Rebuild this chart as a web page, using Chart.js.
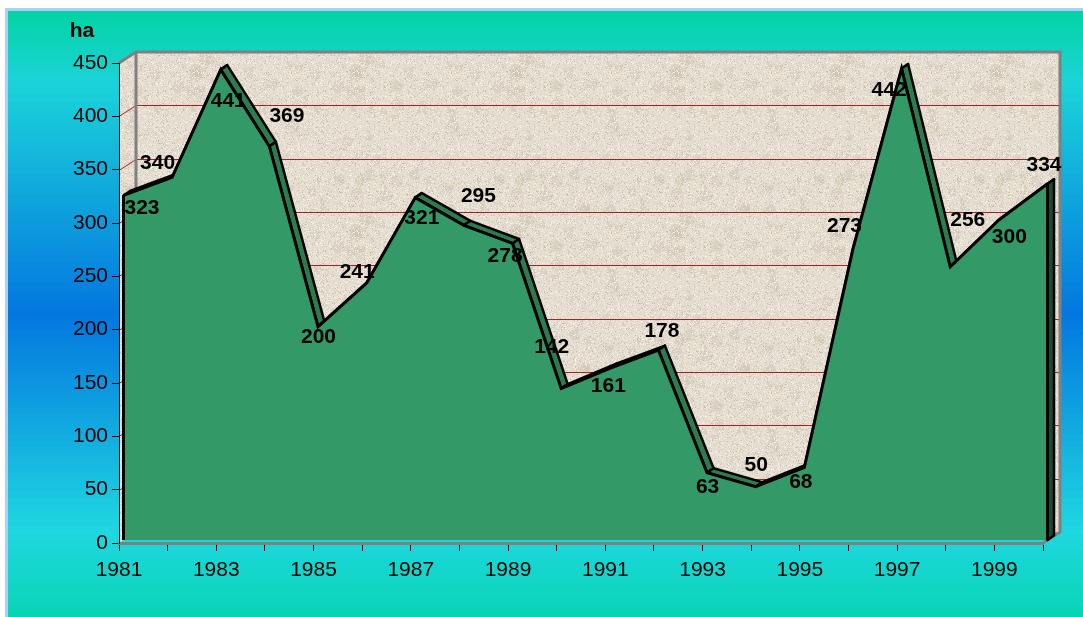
<!DOCTYPE html>
<html>
<head>
<meta charset="utf-8">
<script src="https://cdn.jsdelivr.net/npm/chart.js@4.4.1/dist/chart.umd.min.js"></script>
<style>
  html, body { margin: 0; padding: 0; background: #fff; }
  #wrap { width: 1083px; height: 617px; }
</style>
</head>
<body>
<div id="wrap"><canvas id="areaChart" width="1083" height="617"></canvas></div>
<script>
// Data
const years = ['1981', '1982', '1983', '1984', '1985', '1986', '1987', '1988', '1989', '1990',
               '1991', '1992', '1993', '1994', '1995', '1996', '1997', '1998', '1999', '2000'];
const hectares = [323, 340, 441, 369, 200, 241, 321, 295, 278, 142,
                  161, 178, 63, 50, 68, 273, 442, 256, 300, 334];
const yTicks = [0, 50, 100, 150, 200, 250, 300, 350, 400, 450];
const unitLabel = 'ha';

// where each value label sits relative to its point (Excel placed them by hand-ish)
const labelShift = [
    [23, 10], [-10, -17], [12, 29], [22, -33], [5, 8], [-5, -14], [11, 18], [19, -32], [-3, 10], [-5, -44],
    [3, 15], [8, -22], [5, 11], [5, -24], [1, 12], [-4, -26], [-8, 19], [22, -50], [15, 14], [1, -22]
];

const FONT = '"Liberation Sans", Arial, sans-serif';
const WALL = { dx: 17, dy: -11 };     // depth of the 3D box
const FRONT = { dx: 4.5, dy: -3 };    // front face of the series
const BACK = { dx: 11, dy: -7.5 };    // back face of the series

// beige speckled texture for the walls (seeded so it is the same every time)
function makeTexture() {
    const c = document.createElement('canvas');
    c.width = 160; c.height = 160;
    const t = c.getContext('2d');
    t.fillStyle = '#e6ddd1';
    t.fillRect(0, 0, 160, 160);
    let seed = 12345;
    const rnd = () => { seed = (seed * 1103515245 + 12345) % 2147483648; return seed / 2147483648; };
    for (let i = 0; i < 60; i++) {
        t.fillStyle = 'rgba(190,180,160,0.25)';
        t.beginPath();
        t.arc(rnd() * 160, rnd() * 160, 2 + rnd() * 5, 0, Math.PI * 2);
        t.fill();
    }
    for (let i = 0; i < 9000; i++) {
        const x = Math.floor(rnd() * 160), y = Math.floor(rnd() * 160);
        const r = rnd();
        t.fillStyle = r < 0.45 ? '#f3ede4' : (r < 0.85 ? '#d8cfc0' : '#c6bdab');
        t.fillRect(x, y, 1, 1);
    }
    return c;
}
const texture = makeTexture();

function poly(ctx, pts) {
    ctx.beginPath();
    ctx.moveTo(pts[0][0], pts[0][1]);
    for (let i = 1; i < pts.length; i++) ctx.lineTo(pts[i][0], pts[i][1]);
    ctx.closePath();
}

const scenery = {
    id: 'scenery',
    beforeDraw(chart) {
        const { ctx, chartArea: a, scales: { y } } = chart;
        const W = chart.width, H = chart.height;
        ctx.save();
        // page background
        ctx.fillStyle = '#ffffff';
        ctx.fillRect(0, 0, W, H);
        ctx.fillStyle = '#a9d2fb';
        ctx.fillRect(5, 8, W, H);
        const g = ctx.createLinearGradient(0, 11, 0, H);
        g.addColorStop(0, '#03d3a3');
        g.addColorStop(0.12, '#1bd3d9');
        g.addColorStop(0.5, '#0377e0');
        g.addColorStop(0.86, '#1fd7e0');
        g.addColorStop(1, '#08d4b4');
        ctx.fillStyle = g;
        ctx.fillRect(8, 11, W, H);

        // walls
        const L = a.left, R = a.right, T = a.top, B = a.bottom;
        const pat = ctx.createPattern(texture, 'repeat');
        ctx.fillStyle = pat;
        ctx.fillRect(L + WALL.dx, T + WALL.dy, R - L, B - T);
        poly(ctx, [[L, T], [L + WALL.dx, T + WALL.dy], [L + WALL.dx, B + WALL.dy], [L, B]]);
        ctx.fill();

        // gridlines on back and side wall
        ctx.strokeStyle = '#a22424';
        ctx.lineWidth = 1;
        yTicks.forEach(v => {
            if (v === 0) return;
            const py = Math.round(y.getPixelForValue(v) + WALL.dy) + 0.5;
            ctx.beginPath();
            ctx.moveTo(L, py - WALL.dy);
            ctx.lineTo(L + WALL.dx, py);
            ctx.lineTo(R + WALL.dx, py);
            ctx.stroke();
        });

        // wall edges
        ctx.strokeStyle = '#808080';
        ctx.lineWidth = 3;
        ctx.beginPath();
        ctx.moveTo(L, T);
        ctx.lineTo(L + WALL.dx, T + WALL.dy);
        ctx.lineTo(R + WALL.dx, T + WALL.dy);
        ctx.lineTo(R + WALL.dx, B + WALL.dy);
        ctx.lineTo(R, B);
        ctx.moveTo(L + WALL.dx, T + WALL.dy);
        ctx.lineTo(L + WALL.dx, B + WALL.dy);
        ctx.stroke();
        ctx.restore();
    },
    beforeDatasetsDraw(chart) {
        const { ctx, scales: { y } } = chart;
        const pts = chart.getDatasetMeta(0).data;
        const base = y.getPixelForValue(0);
        ctx.save();
        ctx.lineJoin = 'round';
        ctx.strokeStyle = '#000';
        ctx.lineWidth = 2.5;
        // top surface of the ribbon
        ctx.fillStyle = '#2d7b4f';
        for (let i = 0; i < pts.length - 1; i++) {
            const p = pts[i], q = pts[i + 1];
            poly(ctx, [
                [p.x + FRONT.dx, p.y + FRONT.dy], [q.x + FRONT.dx, q.y + FRONT.dy],
                [q.x + BACK.dx, q.y + BACK.dy], [p.x + BACK.dx, p.y + BACK.dy]
            ]);
            ctx.fill();
            ctx.stroke();
        }
        // right end of the ribbon
        const e = pts[pts.length - 1];
        ctx.fillStyle = '#1b4a30';
        poly(ctx, [
            [e.x + FRONT.dx, e.y + FRONT.dy], [e.x + BACK.dx, e.y + BACK.dy],
            [e.x + BACK.dx, base + BACK.dy], [e.x + FRONT.dx, base + FRONT.dy]
        ]);
        ctx.fill();
        ctx.stroke();
        ctx.restore();
        // front face is drawn by the dataset, shifted forward
        ctx.save();
        ctx.translate(FRONT.dx, FRONT.dy);
    },
    afterDatasetsDraw(chart) {
        const { ctx, scales: { y } } = chart;
        ctx.restore();
        const pts = chart.getDatasetMeta(0).data;
        const base = y.getPixelForValue(0) + FRONT.dy;
        ctx.save();
        // sides of the front face
        ctx.strokeStyle = '#000';
        ctx.lineWidth = 3;
        const f = pts[0], e = pts[pts.length - 1];
        ctx.beginPath();
        ctx.moveTo(f.x + FRONT.dx, f.y + FRONT.dy);
        ctx.lineTo(f.x + FRONT.dx, base);
        ctx.moveTo(e.x + FRONT.dx, e.y + FRONT.dy);
        ctx.lineTo(e.x + FRONT.dx, base);
        ctx.stroke();

        // value labels
        ctx.fillStyle = '#000';
        ctx.font = 'bold 21px ' + FONT;
        ctx.textAlign = 'center';
        ctx.textBaseline = 'middle';
        pts.forEach((p, i) => {
            const s = labelShift[i];
            ctx.fillText(String(hectares[i]), p.x + s[0], p.y + s[1]);
        });

        // unit label
        ctx.fillText(unitLabel, 82, 31);
        ctx.restore();
    }
};

new Chart(document.getElementById('areaChart'), {
    type: 'line',
    data: {
        labels: years,
        datasets: [{
            label: 'ha',
            data: hectares,
            backgroundColor: '#339966',
            borderColor: '#000000',
            borderWidth: 3,
            fill: 'origin',
            tension: 0,
            pointRadius: 0,
            clip: false
        }]
    },
    options: {
        responsive: false,
        animation: false,
        layout: { padding: { top: 63, right: 40, left: 0, bottom: 0 } },
        plugins: {
            legend: { display: false },
            tooltip: { enabled: false }
        },
        scales: {
            x: {
                type: 'category',
                offset: false,
                afterFit: s => { s.height = 74; },
                grid: { drawOnChartArea: false, tickLength: 8, tickColor: '#000' },
                border: { display: true, color: '#808080', width: 3 },
                ticks: {
                    autoSkip: false,
                    maxRotation: 0,
                    padding: 7,
                    color: '#000',
                    font: { family: FONT, size: 21 },
                    callback: function(val, idx) { return idx % 2 === 0 ? this.getLabelForValue(val) : ''; }
                }
            },
            y: {
                min: 0,
                max: 450,
                afterFit: s => { s.width = 119; },
                afterBuildTicks: s => { s.ticks = yTicks.map(v => ({ value: v })); },
                grid: { drawOnChartArea: false, tickLength: 7, tickColor: '#000' },
                border: { display: true, color: '#222', width: 1 },
                ticks: {
                    padding: 4,
                    color: '#000',
                    font: { family: FONT, size: 21 }
                }
            }
        }
    },
    plugins: [scenery]
});
</script>
</body>
</html>
